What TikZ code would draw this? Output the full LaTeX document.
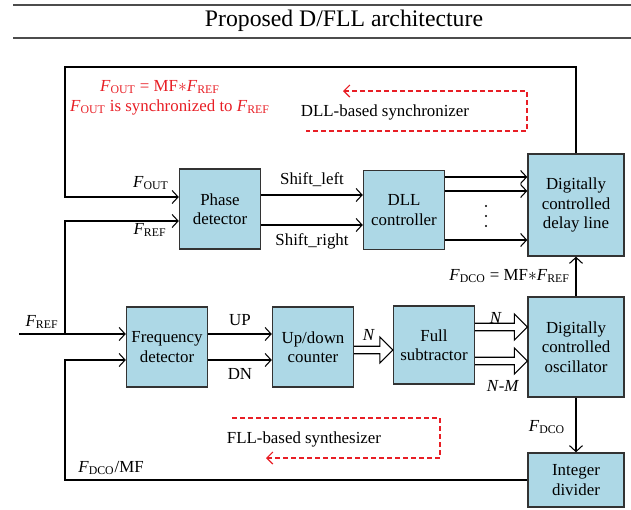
\documentclass[tikz,border=0pt]{standalone}
\usepackage{fontspec}
\setmainfont{Liberation Serif}
\usetikzlibrary{arrows.meta,calc}
\definecolor{boxblue}{RGB}{173,216,230}
\definecolor{notered}{RGB}{232,30,37}
\newcommand{\Fsub}[1]{\textit{F}\textsubscript{#1}}

\begin{document}
\begin{tikzpicture}[x=0.2mm,y=-0.2mm,font=\fontsize{9.6}{11}\selectfont,
  block/.style={draw=black!80,line width=0.8pt,fill=boxblue,align=center,inner sep=1pt},
  wire/.style={line width=0.6pt},
  sig/.style={wire,-{Straight Barb[length=1.2mm,width=2.6mm]}},
  loopnote/.style={draw=notered,line width=0.7pt,dash pattern=on 0.9mm off 0.7mm,
    {Straight Barb[length=1.2mm,width=2.4mm]}-},
  fat/.style={wire,to path={let \p1=(\tikztostart),\p2=(\tikztotarget) in
    (\x1,\y1+0.75mm) -- (\x2-2.6mm,\y1+0.75mm) -- (\x2-2.6mm,\y1+2.6mm) -- (\x2,\y1)
    -- (\x2-2.6mm,\y1-2.6mm) -- (\x2-2.6mm,\y1-0.75mm) -- (\x1,\y1-0.75mm)}}]
\useasboundingbox (0,0) rectangle (631,510);
% title bar
\draw[line width=0.8pt,black!70] (13,5) -- (631,5);
\draw[line width=0.8pt,black!70] (13,38) -- (631,38);
\node (title) at (344,21) {\fontsize{13.5}{16}\selectfont Proposed D/FLL architecture};
% blocks
\node[block,minimum width=16.2mm,minimum height=16mm] (pd) at (220,209) {Phase\\detector};
\node[block,minimum width=16.2mm,minimum height=15.8mm] (dll) at (404,210) {DLL\\controller};
\node[block,minimum width=19.2mm,minimum height=20.4mm] (dcdl) at (576,205) {Digitally\\controlled\\delay line};
\node[block,minimum width=16.2mm,minimum height=16mm] (fd) at (167,347) {Frequency\\detector};
\node[block,minimum width=16.2mm,minimum height=16mm] (ud) at (313,347) {Up/down\\counter};
\node[block,minimum width=16.2mm,minimum height=15.6mm] (fs) at (434,345) {Full\\subtractor};
\node[block,minimum width=19.2mm,minimum height=20mm] (dco) at (576,347) {Digitally\\controlled\\oscillator};
\node[block,minimum width=19.2mm,minimum height=10.8mm] (id) at (576,480) {Integer\\divider};
% DLL part
\coordinate (tl) at (65,67);
\coordinate (pdin1) at ([yshift=2.4mm]pd.west);
\coordinate (pdin2) at ([yshift=-2.4mm]pd.west);
\draw[sig] (dcdl.north) |- (tl) |- (pdin1);
\coordinate (fref) at (19,334);
\coordinate (split) at (65,334);
\draw[sig] (fref) -- (fref -| fd.west);
\draw[sig] (split) |- (pdin2);
\coordinate (sl) at ([yshift=2.8mm]pd.east);
\coordinate (sr) at ([yshift=-3.2mm]pd.east);
\draw[sig] (sl) -- (sl -| dll.west) node[midway,above=1pt] {Shift\_left};
\draw[sig] (sr) -- (sr -| dll.west) node[midway,below=1pt] {Shift\_right};
\coordinate (d1) at ([yshift=6.6mm]dll.east);
\coordinate (d2) at ([yshift=3.8mm]dll.east);
\coordinate (d3) at ([yshift=-6mm]dll.east);
\draw[sig] (d1) -- (d1 -| dcdl.west);
\draw[sig] (d2) -- (d2 -| dcdl.west);
\draw[sig] (d3) -- (d3 -| dcdl.west);
\foreach \y in {206,216,226}
  \fill (486,\y) circle (1.1);
% FLL part
\coordinate (up) at ([yshift=2.6mm]fd.east);
\coordinate (dn) at ([yshift=-2.6mm]fd.east);
\draw[sig] (up) -- (up -| ud.west) node[midway,above=1pt] {UP};
\draw[sig] (dn) -- (dn -| ud.west) node[midway,below=1pt] {DN};
\coordinate (fdin2) at ([yshift=-2.6mm]fd.west);
\draw[sig] (id.west) -- (id.west -| split) |- (fdin2);
\coordinate (n1) at ([yshift=-0.6mm]ud.east);
\draw[fat] (n1) to (n1 -| fs.west);
\coordinate (n2) at ([yshift=3.6mm]fs.east);
\coordinate (n3) at ([yshift=-3.2mm]fs.east);
\draw[fat] (n2) to (n2 -| dco.west);
\draw[fat] (n3) to (n3 -| dco.west);
\draw[sig] (dco.north) -- (dcdl.south);
\draw[sig] (dco.south) -- (id.north);
% labels
\node (lout) at (151,183) {\Fsub{OUT}};
\node (lref) at (150,230) {\Fsub{REF}};
\node (lin) at (42,322) {\Fsub{REF}};
\node (ln1) at (369,335) {\textit{N}};
\node (ln2) at (496,318) {\textit{N}};
\node (lnm) at (503,386) {\textit{N}-\textit{M}};
\node[anchor=east] (lmf) at (576,276) {\Fsub{DCO} = MF$\ast$\Fsub{REF}};
\node (ldco) at (547,427) {\Fsub{DCO}};
\node (ldiv) at (111,468) {\Fsub{DCO}/MF};
% loop notes
\node[text=notered] (eq1) at (160,87) {\Fsub{OUT} = MF$\ast$\Fsub{REF}};
\node[text=notered] (eq2) at (170,107) {\Fsub{OUT} is synchronized to \Fsub{REF}};
\draw[loopnote] (343,91) -- (527,91) -- (527,131) -- (306,131);
\node (dllnote) at (385,112) {DLL-based synchronizer};
\draw[loopnote] (266,458) -- (440,458) -- (440,418) -- (232,418);
\node (fllnote) at (304,439) {FLL-based synthesizer};
\end{tikzpicture}
\end{document}
